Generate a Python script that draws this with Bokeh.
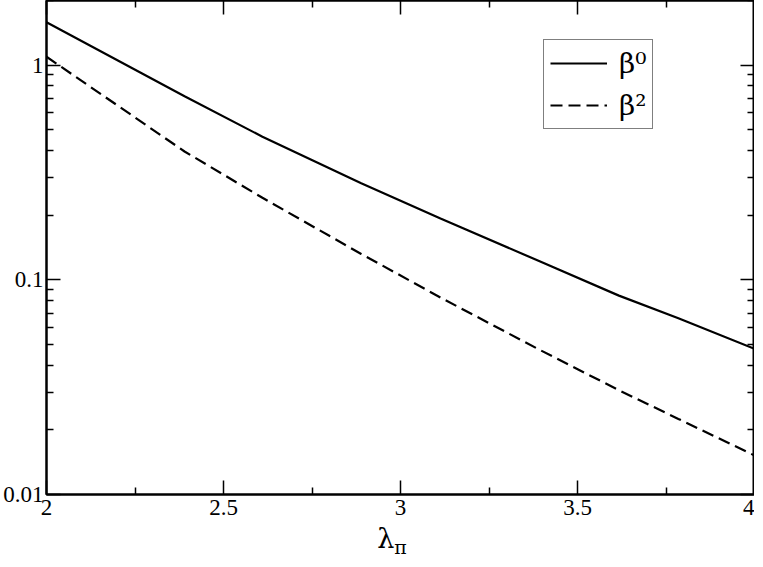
from bokeh.plotting import figure
from bokeh.models import (Range1d, LinearAxis, LogAxis, FixedTicker,
                          NumeralTickFormatter, Legend, LegendItem, Div)
from bokeh.layouts import column
from bokeh.embed import file_html
from bokeh.resources import INLINE

# ---- data ----
lam = [2.0, 2.39, 2.61, 2.889, 3.113, 3.393, 3.617, 3.785, 4.0]
beta0 = [1.585, 0.716, 0.464, 0.282, 0.193, 0.122, 0.0844, 0.0662, 0.0477]
beta2 = [1.094, 0.396, 0.241, 0.132, 0.0827, 0.0472, 0.0306, 0.0225, 0.0152]

x_major = [2.0, 2.5, 3.0, 3.5, 4.0]
x_minor = [2.25, 2.75, 3.25, 3.75]
y_major = [0.01, 0.1, 1.0]
y_minor = [0.02, 0.03, 0.04, 0.05, 0.06, 0.07, 0.08, 0.09,
           0.2, 0.3, 0.4, 0.5, 0.6, 0.7, 0.8, 0.9, 2.0]
legend_labels = ["β⁰", "β²"]
x_label_main = "λ"
x_label_sub = "π"

FONT = "Liberation Serif"
GREEK_FONT = "DejaVu Serif"
W = 754

p = figure(width=W, height=524, y_axis_type="log",
           x_range=Range1d(2, 4), y_range=Range1d(0.01, 2),
           output_backend="svg", toolbar_location=None,
           min_border_left=30, min_border_right=0, min_border_top=0, min_border_bottom=30,
           background_fill_color="white", border_fill_color="white")
p.grid.visible = False
p.outline_line_color = "black"
p.outline_line_width = 2

def style_axis(ax):
    ax.axis_line_color = "black"
    ax.axis_line_width = 2
    ax.major_tick_in = 14
    ax.major_tick_out = 0
    ax.minor_tick_in = 7
    ax.minor_tick_out = 0
    ax.major_tick_line_color = "black"
    ax.minor_tick_line_color = "black"
    ax.major_tick_line_width = 1.5
    ax.minor_tick_line_width = 1.5
    ax.major_label_text_font = FONT
    ax.major_label_text_color = "black"
    ax.major_label_text_font_size = "23px"

xa = p.xaxis[0]
xa.ticker = FixedTicker(ticks=x_major, minor_ticks=x_minor)
xa.formatter = NumeralTickFormatter(format="0.[0]")
style_axis(xa)
xa.major_label_standoff = 5

ya = p.yaxis[0]
ya.ticker = FixedTicker(ticks=y_major, minor_ticks=y_minor)
ya.formatter = NumeralTickFormatter(format="0.[00]")
style_axis(ya)
ya.major_label_standoff = 3

top = LinearAxis(ticker=FixedTicker(ticks=x_major, minor_ticks=x_minor))
style_axis(top)
top.major_label_overrides = {t: "" for t in x_major}
top.major_label_standoff = 0
p.add_layout(top, "above")

right = LogAxis(ticker=FixedTicker(ticks=y_major, minor_ticks=y_minor))
style_axis(right)
right.major_label_overrides = {t: "" for t in y_major}
right.major_label_standoff = 0
p.add_layout(right, "right")

r0 = p.line(lam, beta0, line_color="black", line_width=2.2)
r2 = p.line(lam, beta2, line_color="black", line_width=2.2, line_dash="12 6")

legend = Legend(items=[LegendItem(label=legend_labels[0], renderers=[r0]),
                       LegendItem(label=legend_labels[1], renderers=[r2])],
                location=(497, 365), orientation="vertical",
                border_line_color="black", border_line_width=1.5,
                background_fill_color="white", background_fill_alpha=1.0,
                padding=6, spacing=8, glyph_width=57, glyph_height=34,
                label_height=34, label_standoff=12, margin=0,
                label_text_font=GREEK_FONT, label_text_font_size="28px",
                label_text_color="black")
p.add_layout(legend, "center")

xlabel = Div(text=f"{x_label_main}<sub style='font-size:19px'>{x_label_sub}</sub>",
             width=W, height=24, margin=(0, 0, 0, 0),
             styles={"font-family": f"'{GREEK_FONT}', serif", "font-size": "27px",
                     "line-height": "30px", "text-align": "center", "padding-left": "30px",
                     "color": "black", "box-sizing": "border-box", "overflow": "visible"})

layout = column(p, xlabel, spacing=0)

open("out.html", "w").write(file_html(layout, INLINE))
